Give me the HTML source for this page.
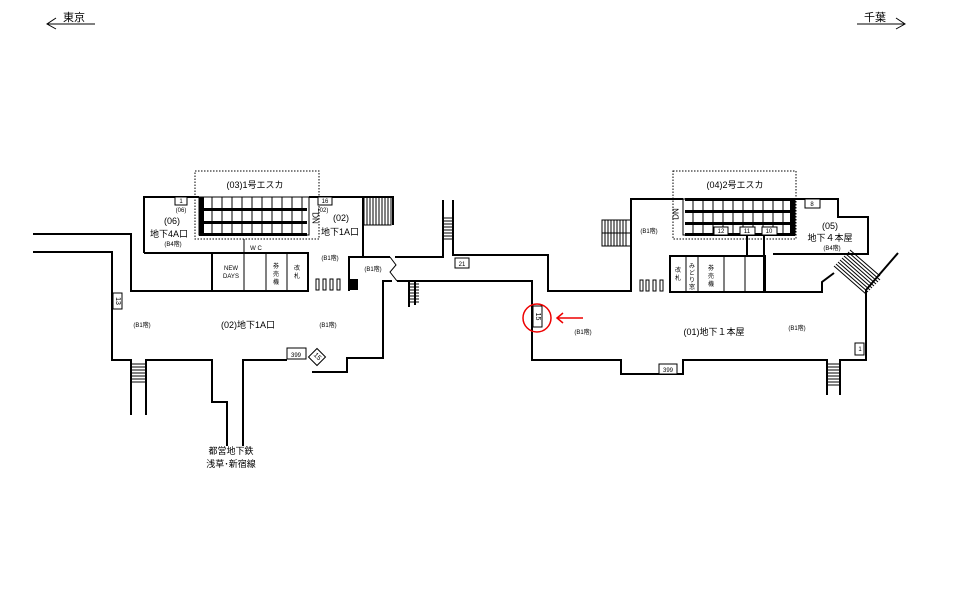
<!DOCTYPE html>
<html><head><meta charset="utf-8"><style>
html,body{margin:0;padding:0;background:#fff;}
svg{display:block;font-family:"Liberation Sans","Noto Sans CJK JP",sans-serif;}
</style></head><body>
<svg width="960" height="605" viewBox="0 0 960 605" xmlns="http://www.w3.org/2000/svg">
<g fill="none" stroke="#000" stroke-width="1">
<line x1="47" y1="24" x2="95" y2="24"/><polyline points="56,18 47,24 56,29"/>
<line x1="857" y1="24" x2="905" y2="24"/><polyline points="896,18 905,24 896,29"/>
</g>
<text x="63" y="21" font-size="11">東京</text>
<text x="864" y="21" font-size="11">千葉</text>

<g fill="none" stroke="#000" stroke-width="2">
<polyline points="33,234 131,234 131,291 308,291"/>
<polyline points="33,252 112,252 112,360 131,360 131,415"/>
<polyline points="146,415 146,360 212,360 212,402 227,402 227,446"/>
<polyline points="243,446 243,360 287,360"/>
<polyline points="312,372 347,372 347,358 383,358 383,281 392,281"/>
<polyline points="397,281 415,281 415,305"/>
<polyline points="349,291 349,257 390,257"/>
<polyline points="395,257 443,257 443,200"/>
<polyline points="453,200 453,255 548,255 548,291 631,291 631,199 683,199"/>
<polyline points="415,281 532,281 532,360 621,360 621,374 683,374 683,360 827,360 827,395"/>
<polyline points="840,395 840,360 866,360 866,290"/>
<polyline points="866,290 898,253"/>
<polyline points="670,292 822,292 822,282 834,273"/>
<polyline points="144,253 144,197 199,197"/>
<polyline points="309,197 393,197 393,225"/>
<polyline points="144,253 212,253 212,291"/>
<line x1="363" y1="197" x2="363" y2="257"/>
<rect x="212" y="253" width="96" height="38"/>
<polyline points="795,199 838,199 838,217 868,217 868,254 773,254"/>
<rect x="670" y="256" width="95" height="36"/>
</g>
<g fill="none" stroke="#000" stroke-width="1">
<line x1="244" y1="239" x2="244" y2="291"/><line x1="266" y1="253" x2="266" y2="291"/><line x1="287" y1="253" x2="287" y2="291"/>
<line x1="686" y1="256" x2="686" y2="292"/><line x1="698" y1="256" x2="698" y2="292"/><line x1="724" y1="256" x2="724" y2="292"/><line x1="745" y1="256" x2="745" y2="292"/>
<line x1="747" y1="235" x2="747" y2="256" stroke-width="2"/><line x1="764" y1="235" x2="764" y2="292" stroke-width="2"/>
<polyline points="390,257 396,265 390,272 397,281"/>
<rect x="195" y="171" width="124" height="68" stroke-dasharray="1.5,1.5"/>
<rect x="673" y="171" width="123" height="68" stroke-dasharray="1.5,1.5"/>
<rect x="199" y="197" width="110" height="38"/>
<path d="M212 197v38M222 197v38M232 197v38M242 197v38M252 197v38M262 197v38M272 197v38M282 197v38M292 197v38M302 197v38"/>
<rect x="683" y="199" width="112" height="36"/>
<path d="M693 199v36M703 199v36M713 199v36M723 199v36M733 199v36M743 199v36M753 199v36M763 199v36M773 199v36M783 199v36"/>
</g>
<g fill="#000">
<rect x="199" y="197" width="5" height="38"/>
<rect x="199" y="208" width="108" height="3"/><rect x="199" y="221" width="108" height="3"/><rect x="199" y="233" width="108" height="3"/>
<rect x="790" y="199" width="5" height="36"/>
<rect x="685" y="198" width="110" height="3"/><rect x="685" y="210" width="110" height="3"/><rect x="685" y="222" width="110" height="3"/><rect x="685" y="233" width="110" height="3"/>
<rect x="349" y="279" width="9" height="11"/>
</g>
<g fill="none" stroke="#000" stroke-width="1">
<rect x="364" y="197" width="27" height="28"/>
<path d="M367 197v28M370 197v28M373 197v28M376 197v28M379 197v28M382 197v28M385 197v28M388 197v28"/>
<rect x="602" y="220" width="29" height="26"/>
<path d="M605 220v26M608 220v26M611 220v26M614 220v26M617 220v26M620 220v26M623 220v26M626 220v26M602 233h29"/>
<path d="M131 364h15M131 367h15M131 370h15M131 373h15M131 376h15M131 379h15M131 382h15"/>
<path d="M443 218h10M443 221h10M443 224h10M443 227h10M443 230h10M443 233h10M443 236h10M443 239h10"/>
<path d="M409 284h10M409 287h10M409 290h10M409 293h10M409 296h10M409 299h10M409 302h10"/>
<line x1="409" y1="281" x2="409" y2="307" stroke-width="2"/>
<path d="M827 364h13M827 367h13M827 370h13M827 373h13M827 376h13M827 379h13M827 382h13M827 385h13"/>
<path d="M834 266l32 28M836 264l32 28M838 262l32 28M840 260l32 28M842 258l32 28M844 256l32 28M846 254l32 28M848 252l32 28M850 250l30 26"/>
</g>
<g fill="#fff" stroke="#000" stroke-width="1">
<rect x="316" y="279" width="3" height="11"/><rect x="323" y="279" width="3" height="11"/><rect x="330" y="279" width="3" height="11"/><rect x="337" y="279" width="3" height="11"/>
<rect x="640" y="280" width="3" height="11"/><rect x="646" y="280" width="3" height="11"/><rect x="653" y="280" width="3" height="11"/><rect x="660" y="280" width="3" height="11"/>
<rect x="175" y="197" width="12" height="8"/><rect x="318" y="197" width="14" height="8"/>
<rect x="113" y="293" width="9" height="16"/>
<rect x="455" y="258" width="14" height="10"/>
<rect x="287" y="348" width="19" height="11"/>
<rect x="311" y="351" width="12" height="12" transform="rotate(45 317 357)"/>
<rect x="533" y="306" width="9" height="21"/>
<rect x="659" y="364" width="18" height="10"/>
<rect x="805" y="199" width="15" height="9"/>
<rect x="855" y="343" width="9" height="12"/>
<rect x="714" y="227" width="14" height="8"/><rect x="740" y="227" width="15" height="8"/><rect x="762" y="227" width="15" height="8"/>
</g>
<circle cx="537" cy="318" r="14" fill="none" stroke="#e00" stroke-width="1.5"/>
<line x1="557" y1="318" x2="583" y2="318" stroke="#e00" stroke-width="1.5"/>
<polyline points="563,313 557,318 563,323" fill="none" stroke="#e00" stroke-width="1.5"/>
<g font-size="6" text-anchor="middle">
<text x="181" y="203">1</text><text x="325" y="203">16</text>
<text x="181" y="212">(06)</text><text x="323" y="212">(02)</text>
<text x="462" y="266">21</text><text x="296" y="357">399</text><text x="668" y="372">399</text>
<text x="812" y="206">8</text><text x="721" y="233">12</text><text x="747" y="233">11</text><text x="769" y="233">10</text>
<text x="173" y="246">(B4階)</text><text x="330" y="260">(B1階)</text><text x="373" y="271">(B1階)</text>
<text x="142" y="327">(B1階)</text><text x="328" y="327">(B1階)</text>
<text x="649" y="233">(B1階)</text><text x="583" y="334">(B1階)</text><text x="797" y="330">(B1階)</text><text x="832" y="250">(B4階)</text>
<text x="231" y="270">NEW</text><text x="231" y="278">DAYS</text><text x="256" y="250">W C</text>
<text x="860" y="351">1</text>
</g>
<g font-size="7" text-anchor="middle" dominant-baseline="central">
<text transform="translate(117.5 301) rotate(90)">13</text>
<text transform="translate(537.5 316.5) rotate(90)">15</text>
<text transform="translate(317 357) rotate(45)">15</text>
</g>
<g font-size="6" text-anchor="middle">
<text x="276" y="268">券</text><text x="276" y="276">売</text><text x="276" y="284">機</text>
<text x="297" y="270">改</text><text x="297" y="278">札</text>
<text x="678" y="272">改</text><text x="678" y="280">札</text>
<text x="692" y="268">み</text><text x="692" y="275">ど</text><text x="692" y="282">り</text><text x="692" y="289">窓</text>
<text x="711" y="270">券</text><text x="711" y="278">売</text><text x="711" y="286">機</text>
</g>
<g font-size="9" text-anchor="middle">
<text x="255" y="188">(03)1号エスカ</text>
<text x="735" y="188">(04)2号エスカ</text>
<text x="172" y="224">(06)</text><text x="169" y="237">地下4A口</text>
<text x="341" y="221">(02)</text><text x="340" y="235">地下1A口</text>
<text x="248" y="328">(02)地下1A口</text>
<text x="714" y="335">(01)地下１本屋</text>
<text x="830" y="229">(05)</text><text x="830" y="241">地下４本屋</text>
<text x="231" y="454">都営地下鉄</text><text x="231" y="467">浅草･新宿線</text>
</g>
<g font-size="8" text-anchor="middle" dominant-baseline="central">
<text transform="translate(315 218) rotate(90)">DN</text>
<text transform="translate(676 214) rotate(-90)">DN</text>
</g>
</svg>
</body></html>
